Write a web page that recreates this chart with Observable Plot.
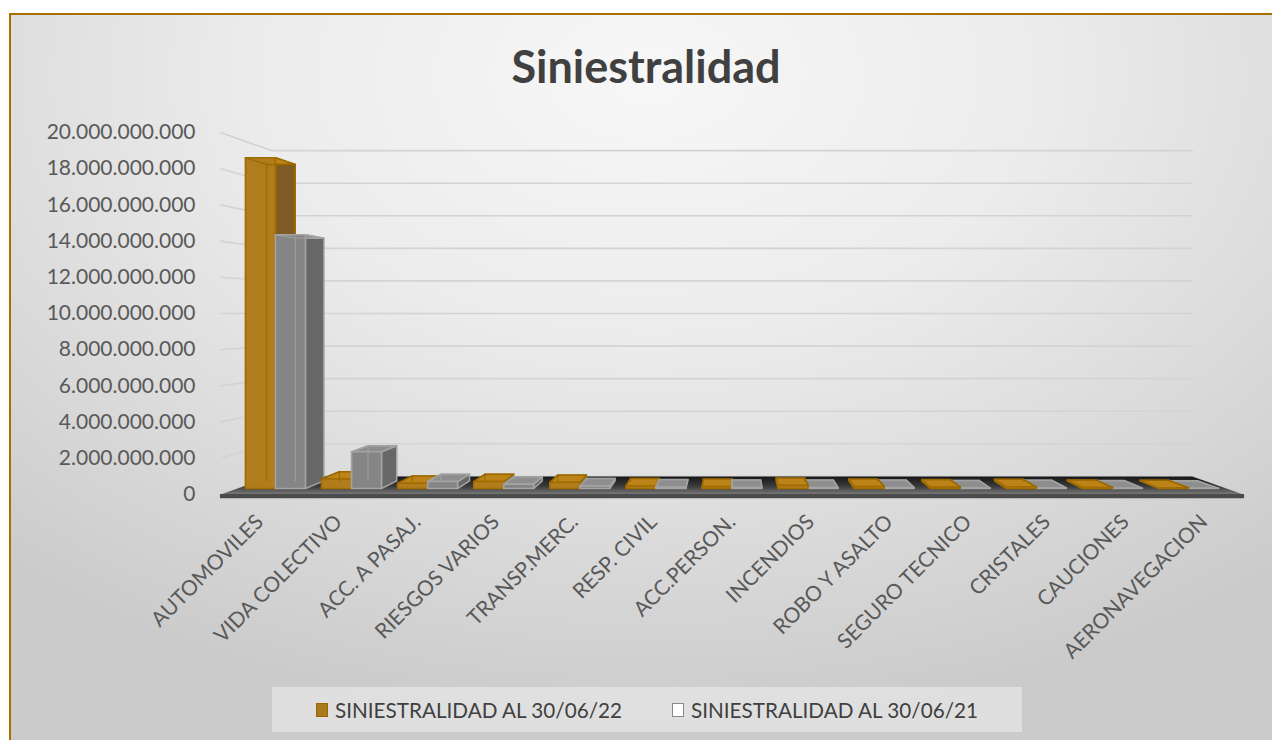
<!DOCTYPE html>
<html>
<head>
<meta charset="utf-8">
<script src="https://cdn.jsdelivr.net/npm/d3@7"></script>
<script src="https://cdn.jsdelivr.net/npm/@observablehq/plot@0.6"></script>
<style>
  html, body { margin: 0; padding: 0; width: 1272px; height: 740px; overflow: hidden; background: #ffffff; }
  body { font-family: Lato, "Open Sans", sans-serif; }
  #frame { position: absolute; left: 9px; top: 13px; width: 1300px; height: 760px;
    border-left: 2.5px solid #a87000; border-top: 2.5px solid #a87000;
    background: radial-gradient(ellipse 75% 85% at 49% 8%, #f7f7f7 0%, #ececec 40%, #dcdcdc 70%, #cbcbcb 100%); }
  #title { position: absolute; left: 0; top: 39px; width: 1292px; text-align: center;
    font: 700 45px Lato, sans-serif; color: #404040; line-height: 54px; }
  #chart { position: absolute; left: 0; top: 100px; }
  #legend { position: absolute; left: 272px; top: 687px; width: 750px; height: 45px;
    background: rgba(240,240,240,0.55); display: flex; align-items: center; justify-content: center;
    font: 400 20.7px Lato, sans-serif; color: #404040; }
  #legend .sw { display: inline-block; width: 10px; height: 12px; margin-right: 7px; box-sizing: content-box; }
  #legend .item { display: flex; align-items: center; }
  #legend .item + .item { margin-left: 50px; }
</style>
</head>
<body>
<div id="frame"></div>
<div id="title">Siniestralidad</div>
<div id="chart"></div>
<div id="legend"></div>
<script>
// ---------------- data ----------------
const categories = ["AUTOMOVILES", "VIDA COLECTIVO", "ACC. A PASAJ.", "RIESGOS VARIOS", "TRANSP.MERC.",
  "RESP. CIVIL", "ACC.PERSON.", "INCENDIOS", "ROBO Y ASALTO", "SEGURO TECNICO", "CRISTALES", "CAUCIONES", "AERONAVEGACION"];
const siniestralidad22 = [18.9e9, 0.55e9, 0.30e9, 0.40e9, 0.35e9, 0.15e9, 0.12e9, 0.18e9, 0.12e9, 0.08e9, 0.10e9, 0.06e9, 0.04e9];
const siniestralidad21 = [14.5e9, 2.1e9, 0.40e9, 0.25e9, 0.15e9, 0.08e9, 0.06e9, 0.05e9, 0.05e9, 0.03e9, 0.04e9, 0.02e9, 0.01e9];
const seriesLabels = ["SINIESTRALIDAD AL 30/06/22", "SINIESTRALIDAD AL 30/06/21"];
const yTicks = [0, 2e9, 4e9, 6e9, 8e9, 10e9, 12e9, 14e9, 16e9, 18e9, 20e9];

// ---------------- styles ----------------
const seriesStyles = [
  {front: "#b07c1c", side: "#7d5b22", top: "#bb8318", stroke: "#a26d00", inner: "rgba(150,100,0,0.75)", swatch: "#a97a1e", swatchBorder: "#9a6800"},
  {front: "#858585", side: "#686868", top: "#8e8e8e", stroke: "#a4a4a4", inner: "rgba(160,160,160,0.8)", swatch: "#ffffff", swatchBorder: "#8a8a8a"}
];

const fmt = d => d3.format(",")(d).replace(/,/g, ".");

// ---------------- 3D perspective helpers (data units) ----------------
const XMIN = -0.5, XMAX = categories.length - 0.5;
const CX = 6, CV = 10e9, SHRINK = 0.1;
const proj = ([X, V, z]) => { const s = 1 - SHRINK * z; return [CX + (X - CX) * s, CV + (V - CV) * s]; };

const polys = []; let pid = 0;
function addPath(pts, fill, stroke, sw, close = true) {
  const id = pid++;
  const arr = close ? [...pts, pts[0]] : pts;
  for (const p of arr) { const [x, y] = proj(p); polys.push({id, x, y, fill, stroke, sw}); }
}

// walls gridlines
const grid = [];
yTicks.forEach((v, k) => {
  for (const p of [[XMIN, v, 0], [XMIN, v, 1], [XMAX, v, 1]]) { const [x, y] = proj(p); grid.push({k, x, y}); }
});

// floor
const SLAB = -0.17e9;
addPath([[XMIN, 0, 0], [XMAX, 0, 0], [XMAX, 0, 1], [XMIN, 0, 1]], "url(#floorGrad)", "none", 0);
addPath([[XMIN, 0, 0], [XMAX, 0, 0], [XMAX, SLAB, 0], [XMIN, SLAB, 0]], "#4b4b4b", "#4b4b4b", 1.2);

// bars
const W = 0.394, Z0 = 0.33, Z1 = 0.75;
const bars = [];
categories.forEach((c, i) => {
  bars.push({s: 0, xa: i - W, xb: i, v: siniestralidad22[i]});
  bars.push({s: 1, xa: i, xb: i + W, v: siniestralidad21[i]});
});
bars.sort((a, b) => Math.abs((b.xa + b.xb) / 2 - CX) - Math.abs((a.xa + a.xb) / 2 - CX));
for (const b of bars) {
  const st = seriesStyles[b.s];
  const leftOfCenter = (b.xa + b.xb) / 2 < CX;
  const sx = leftOfCenter ? b.xb : b.xa, ox = leftOfCenter ? b.xa : b.xb;
  addPath([[sx, 0, Z0], [sx, 0, Z1], [sx, b.v, Z1], [sx, b.v, Z0]], st.side, st.stroke, 1.5);
  addPath([[b.xa, b.v, Z0], [b.xb, b.v, Z0], [b.xb, b.v, Z1], [b.xa, b.v, Z1]], st.top, st.stroke, 1.5);
  addPath([[b.xa, 0, Z0], [b.xb, 0, Z0], [b.xb, b.v, Z0], [b.xa, b.v, Z0]], st.front, st.stroke, 1.6);
  addPath([[ox, 0, Z1], [ox, b.v, Z1], [sx, b.v, Z1]], "none", st.inner, 1.3, false);
  addPath([[ox, b.v, Z0], [ox, b.v, Z1]], "none", st.inner, 1.3, false);
}

const chart = Plot.plot({
  width: 1272, height: 580,
  marginLeft: 220, marginRight: 29, marginTop: 32, marginBottom: 186,
  x: {domain: [XMIN, XMAX]},
  y: {domain: [0, 20e9]},
  color: {type: "identity"},
  style: {background: "transparent", fontFamily: "Lato, sans-serif", fontSize: "21px", color: "#595959", overflow: "visible"},
  marks: [
    Plot.line(grid, {x: "x", y: "y", z: "k", stroke: "#d3d3d3", strokeWidth: 1.6}),
    Plot.line(polys, {x: "x", y: "y", z: "id", fill: "fill", stroke: "stroke", strokeWidth: "sw", strokeLinejoin: "round"}),
    Plot.axisY({ticks: yTicks, tickFormat: fmt, tickSize: 0, tickPadding: 25, label: null}),
    Plot.axisX({ticks: d3.range(categories.length), tickFormat: i => categories[i], tickRotate: -45, tickSize: 0, tickPadding: 24, label: null})
  ]
});
chart.insertAdjacentHTML("afterbegin",
  `<defs><linearGradient id="floorGrad" x1="0" y1="0" x2="0" y2="1">
     <stop offset="0%" stop-color="#161616"/>
     <stop offset="55%" stop-color="#3c3c3c"/>
     <stop offset="100%" stop-color="#7a7a7a"/>
   </linearGradient></defs>`);
document.getElementById("chart").appendChild(chart);

// legend
const legend = document.getElementById("legend");
seriesLabels.forEach((label, k) => {
  const item = document.createElement("div");
  item.className = "item";
  const sw = document.createElement("span");
  sw.className = "sw";
  sw.style.background = seriesStyles[k].swatch;
  sw.style.border = `1.5px solid ${seriesStyles[k].swatchBorder}`;
  const t = document.createElement("span");
  t.textContent = label;
  item.append(sw, t);
  legend.appendChild(item);
});
</script>
</body>
</html>
